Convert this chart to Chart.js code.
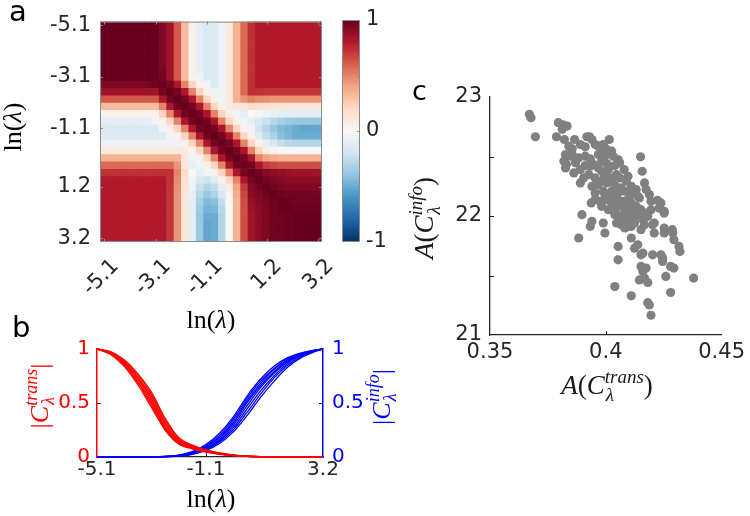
<!DOCTYPE html>
<html>
<head>
<meta charset="utf-8">
<script src="https://cdn.jsdelivr.net/npm/chart.js@4.4.1/dist/chart.umd.min.js"></script>
<style>
    html, body { margin: 0; padding: 0; background: #fff; }
    #page { position: relative; width: 750px; height: 516px; overflow: hidden; }
    #page canvas { position: absolute; left: 0; top: 0; }
</style>
</head>
<body>
<div id="page">
    <canvas id="heat" width="750" height="516"></canvas>
    <canvas id="cbar" width="750" height="516"></canvas>
    <canvas id="curves" width="750" height="516"></canvas>
    <canvas id="scatter" width="750" height="516"></canvas>
</div>
<script>
// ---- panel a: ln(lambda) grid and correlation matrix (upper triangle, row i holds j = i..29)
var lnL = [-5.10, -4.81, -4.53, -4.24, -3.96, -3.67, -3.38, -3.10, -2.81, -2.52,
           -2.24, -1.95, -1.67, -1.38, -1.09, -0.81, -0.52, -0.24, 0.05, 0.34,
           0.62, 0.91, 1.20, 1.48, 1.77, 2.06, 2.34, 2.63, 2.91, 3.20];
var heatTicks = [0, 7, 14, 22, 29];
var heatUpper = [
    [1, 1, 1, 1, 1, 1, 1, 1, 0.93, 0.85, 0.62, 0.32, 0.05, -0.1, -0.15, -0.14, -0.06, 0.1, 0.35, 0.57, 0.73, 0.8, 0.8, 0.8, 0.8, 0.8, 0.8, 0.8, 0.8, 0.8],
    [1, 1, 1, 1, 1, 1, 1, 0.93, 0.85, 0.62, 0.32, 0.05, -0.1, -0.15, -0.14, -0.06, 0.1, 0.35, 0.57, 0.73, 0.8, 0.8, 0.8, 0.8, 0.8, 0.8, 0.8, 0.8, 0.8],
    [1, 1, 1, 1, 1, 1, 0.93, 0.85, 0.62, 0.32, 0.05, -0.1, -0.15, -0.14, -0.06, 0.1, 0.35, 0.57, 0.73, 0.8, 0.8, 0.8, 0.8, 0.8, 0.8, 0.8, 0.8, 0.8],
    [1, 1, 1, 1, 1, 0.93, 0.85, 0.62, 0.32, 0.05, -0.1, -0.15, -0.14, -0.06, 0.1, 0.35, 0.57, 0.73, 0.8, 0.8, 0.8, 0.8, 0.8, 0.8, 0.8, 0.8, 0.8],
    [1, 1, 1, 1, 0.93, 0.85, 0.62, 0.32, 0.05, -0.1, -0.15, -0.14, -0.06, 0.1, 0.35, 0.57, 0.73, 0.8, 0.8, 0.8, 0.8, 0.8, 0.8, 0.8, 0.8, 0.8],
    [1, 1, 1, 0.93, 0.85, 0.62, 0.32, 0.05, -0.1, -0.15, -0.14, -0.06, 0.1, 0.35, 0.57, 0.73, 0.8, 0.8, 0.8, 0.8, 0.8, 0.8, 0.8, 0.8, 0.8],
    [1, 1, 0.95, 0.85, 0.62, 0.32, 0.05, -0.1, -0.15, -0.14, -0.06, 0.1, 0.35, 0.57, 0.73, 0.8, 0.8, 0.8, 0.8, 0.8, 0.8, 0.8, 0.8, 0.8],
    [1, 0.97, 0.85, 0.62, 0.32, 0.05, -0.05, -0.15, -0.14, -0.06, 0.1, 0.35, 0.57, 0.73, 0.8, 0.8, 0.8, 0.8, 0.8, 0.8, 0.8, 0.8, 0.8],
    [1, 0.96, 0.82, 0.5, 0.22, 0.05, -0.05, -0.14, -0.06, 0.1, 0.35, 0.57, 0.73, 0.8, 0.8, 0.8, 0.8, 0.8, 0.8, 0.8, 0.8, 0.8],
    [1, 0.96, 0.82, 0.5, 0.22, 0.05, -0.05, -0.06, 0.1, 0.35, 0.57, 0.74, 0.73, 0.72, 0.72, 0.72, 0.72, 0.72, 0.72, 0.72, 0.72],
    [1, 0.96, 0.82, 0.5, 0.22, 0.05, -0.05, 0.1, 0.35, 0.45, 0.5, 0.47, 0.46, 0.45, 0.45, 0.45, 0.45, 0.45, 0.45, 0.45],
    [1, 0.96, 0.82, 0.5, 0.22, 0.05, 0.1, 0.12, 0.12, 0.2, 0.16, 0.14, 0.13, 0.12, 0.12, 0.12, 0.12, 0.12, 0.12],
    [1, 0.96, 0.82, 0.5, 0.22, 0.05, -0.05, -0.1, 0, -0.03, -0.06, -0.08, -0.1, -0.1, -0.1, -0.1, -0.1, -0.1],
    [1, 0.96, 0.82, 0.5, 0.22, 0.05, -0.05, -0.1, -0.17, -0.23, -0.28, -0.33, -0.36, -0.38, -0.38, -0.38, -0.38],
    [1, 0.96, 0.82, 0.5, 0.22, 0.05, -0.05, -0.2, -0.3, -0.38, -0.44, -0.47, -0.5, -0.52, -0.52, -0.52],
    [1, 0.96, 0.82, 0.5, 0.22, 0.05, -0.12, -0.25, -0.32, -0.42, -0.46, -0.5, -0.5, -0.5, -0.5],
    [1, 0.96, 0.82, 0.5, 0.22, 0.05, -0.1, -0.18, -0.24, -0.28, -0.3, -0.3, -0.3, -0.3],
    [1, 0.96, 0.82, 0.5, 0.22, 0.08, 0.03, 0, 0, 0, 0, 0, 0],
    [1, 0.96, 0.82, 0.5, 0.4, 0.37, 0.35, 0.35, 0.35, 0.35, 0.35, 0.35],
    [1, 0.96, 0.82, 0.7, 0.67, 0.65, 0.65, 0.65, 0.65, 0.65, 0.65],
    [1, 0.96, 0.92, 0.9, 0.88, 0.86, 0.85, 0.85, 0.85, 0.85],
    [1, 0.96, 0.93, 0.92, 0.9, 0.9, 0.9, 0.9, 0.9],
    [1, 0.97, 0.95, 0.94, 0.94, 0.94, 0.94, 0.94],
    [1, 0.98, 0.97, 0.97, 0.97, 0.97, 0.97],
    [1, 0.99, 0.98, 0.98, 0.98, 0.98],
    [1, 0.99, 0.99, 0.99, 0.99],
    [1, 1, 1, 1],
    [1, 1, 1],
    [1, 1],
    [1]
];
var cbTicks = [-1, 0, 1];

// ---- panel b: |C^trans| and |C^info| against ln(lambda)
var bX = [-5.1, -4.6, -4.1, -3.6, -3.1, -2.6, -2.1, -1.6, -1.1, -0.6, -0.1, 0.4, 0.9, 1.4, 1.9, 2.4, 2.9, 3.2];
var bTicks = [-5.1, -1.1, 3.2];
var transCurves = [
    [1, 0.95, 0.84, 0.67, 0.46, 0.25, 0.12, 0.075, 0.045, 0.025, 0.012, 0.005, 0.002, 0.001, 0, 0, 0, 0],
    [1, 0.955, 0.85, 0.69, 0.48, 0.26, 0.13, 0.08, 0.05, 0.027, 0.013, 0.006, 0.002, 0.001, 0, 0, 0, 0],
    [1, 0.96, 0.86, 0.70, 0.50, 0.27, 0.135, 0.085, 0.052, 0.028, 0.014, 0.006, 0.003, 0.001, 0, 0, 0, 0],
    [1, 0.96, 0.87, 0.72, 0.52, 0.28, 0.14, 0.09, 0.055, 0.03, 0.015, 0.007, 0.003, 0.001, 0, 0, 0, 0],
    [1, 0.965, 0.875, 0.73, 0.54, 0.30, 0.15, 0.095, 0.058, 0.032, 0.016, 0.007, 0.003, 0.001, 0, 0, 0, 0],
    [1, 0.97, 0.88, 0.74, 0.56, 0.32, 0.16, 0.10, 0.06, 0.034, 0.017, 0.008, 0.003, 0.001, 0, 0, 0, 0],
    [1, 0.97, 0.89, 0.76, 0.58, 0.34, 0.17, 0.105, 0.063, 0.036, 0.018, 0.008, 0.004, 0.001, 0, 0, 0, 0],
    [1, 0.975, 0.90, 0.77, 0.60, 0.36, 0.18, 0.11, 0.066, 0.038, 0.02, 0.009, 0.004, 0.002, 0.001, 0, 0, 0]
];
var infoCurves = [
    [0, 0, 0, 0, 0.002, 0.006, 0.018, 0.05, 0.115, 0.22, 0.37, 0.56, 0.72, 0.84, 0.92, 0.965, 0.99, 1],
    [0, 0, 0, 0, 0.002, 0.005, 0.016, 0.045, 0.105, 0.20, 0.35, 0.54, 0.70, 0.82, 0.91, 0.96, 0.99, 1],
    [0, 0, 0, 0, 0.001, 0.005, 0.014, 0.04, 0.095, 0.185, 0.33, 0.52, 0.68, 0.81, 0.90, 0.955, 0.988, 1],
    [0, 0, 0, 0, 0.001, 0.004, 0.012, 0.036, 0.088, 0.175, 0.31, 0.50, 0.66, 0.79, 0.89, 0.95, 0.986, 1],
    [0, 0, 0, 0, 0.001, 0.004, 0.011, 0.033, 0.08, 0.16, 0.29, 0.47, 0.64, 0.775, 0.88, 0.945, 0.984, 1],
    [0, 0, 0, 0, 0, 0.003, 0.01, 0.03, 0.075, 0.15, 0.27, 0.44, 0.61, 0.75, 0.865, 0.94, 0.982, 1],
    [0, 0, 0, 0, 0, 0.003, 0.009, 0.027, 0.068, 0.14, 0.25, 0.41, 0.58, 0.73, 0.85, 0.93, 0.98, 1],
    [0, 0, 0, 0, 0, 0.002, 0.008, 0.024, 0.06, 0.125, 0.23, 0.38, 0.55, 0.70, 0.83, 0.92, 0.975, 1]
];

// ---- panel c: A(C^trans) vs A(C^info)
var aTrans = [
    0.3670, 0.3677, 0.3696, 0.3795, 0.3815, 0.3833, 0.3812, 0.3787, 0.3821, 0.3865,
    0.3918, 0.3930, 0.3940, 0.4015, 0.3840, 0.3855, 0.3890, 0.3911, 0.3954, 0.3985,
    0.4004, 0.4025, 0.3989, 0.3826, 0.3848, 0.3883, 0.3933, 0.3968, 0.3996, 0.4032,
    0.4053, 0.4150, 0.3819, 0.3830, 0.3869, 0.3911, 0.3982, 0.4004, 0.4039, 0.4060,
    0.3826, 0.3862, 0.3890, 0.3933, 0.3968, 0.4011, 0.4046, 0.4079, 0.4157, 0.3904,
    0.3926, 0.3954, 0.3996, 0.4025, 0.4060, 0.4096, 0.4167, 0.3890, 0.3940, 0.3968,
    0.4004, 0.4039, 0.4067, 0.4110, 0.4131, 0.4174, 0.3954, 0.3989, 0.4018, 0.4053,
    0.4082, 0.4110, 0.4138, 0.4188, 0.3937, 0.3975, 0.4004, 0.4039, 0.4074, 0.4110,
    0.4145, 0.4195, 0.4223, 0.4238, 0.3982, 0.4011, 0.4046, 0.4082, 0.4110, 0.4138,
    0.4174, 0.4230, 0.4252, 0.3897, 0.4039, 0.4060, 0.4096, 0.4124, 0.4181, 0.4252,
    0.3940, 0.3989, 0.4046, 0.4067, 0.4096, 0.4110, 0.4167, 0.4209, 0.4252, 0.3933,
    0.3996, 0.4082, 0.4152, 0.4202, 0.4287, 0.3883, 0.4110, 0.4209, 0.4252, 0.4289,
    0.4294, 0.4053, 0.4124, 0.4138, 0.4160, 0.4238, 0.4316, 0.4320, 0.4053, 0.4152,
    0.4202, 0.4245, 0.4245, 0.4152, 0.4160, 0.4174, 0.4294, 0.4280, 0.4145, 0.4167,
    0.4181, 0.4259, 0.4379, 0.4039, 0.4280, 0.4110, 0.4181, 0.4188, 0.4195, 0.4025,
    0.4046, 0.4096, 0.4060, 0.4089, 0.4103, 0.4074, 0.4124, 0.4025, 0.3996, 0.3975,
    0.4018, 0.3982, 0.3947, 0.3911, 0.3968, 0.3855, 0.4131, 0.4152, 0.4195, 0.4160,
    0.4096, 0.4039, 0.4117, 0.3954, 0.4089
];
var aInfo = [
    22.854, 22.826, 22.666, 22.784, 22.767, 22.756, 22.728, 22.666, 22.643, 22.643,
    22.666, 22.666, 22.643, 22.643, 22.587, 22.565, 22.601, 22.581, 22.601, 22.553,
    22.559, 22.545, 22.601, 22.517, 22.503, 22.489, 22.480, 22.517, 22.503, 22.503,
    22.475, 22.497, 22.461, 22.433, 22.447, 22.424, 22.461, 22.441, 22.424, 22.447,
    22.404, 22.362, 22.390, 22.419, 22.404, 22.390, 22.348, 22.390, 22.376, 22.320,
    22.348, 22.320, 22.334, 22.301, 22.320, 22.334, 22.278, 22.278, 22.250, 22.264,
    22.278, 22.256, 22.236, 22.250, 22.222, 22.222, 22.194, 22.208, 22.166, 22.194,
    22.208, 22.180, 22.166, 22.180, 22.110, 22.124, 22.138, 22.110, 22.124, 22.110,
    22.152, 22.124, 22.132, 22.110, 22.081, 22.053, 22.067, 22.039, 22.067, 22.025,
    22.025, 22.067, 22.039, 22.011, 22.011, 21.997, 21.997, 21.983, 21.997, 22.025,
    21.955, 21.941, 21.941, 21.927, 21.969, 21.913, 21.927, 21.941, 21.899, 21.913,
    21.857, 21.899, 21.885, 21.927, 21.885, 21.815, 21.815, 21.857, 21.857, 21.857,
    21.801, 21.744, 21.730, 21.758, 21.688, 21.674, 21.744, 21.702, 21.632, 21.674,
    21.674, 21.646, 21.618, 21.576, 21.534, 21.562, 21.562, 21.576, 21.463, 21.478,
    21.441, 21.492, 21.478, 21.407, 21.357, 21.329, 21.272, 21.253, 21.166, 22.208,
    22.166, 22.138, 22.096, 22.081, 22.025, 21.969, 21.941, 22.110, 22.180, 22.292,
    22.320, 22.376, 22.433, 22.503, 22.587, 22.517, 22.081, 22.053, 22.053, 21.969,
    21.913, 22.222, 22.208, 22.138, 22.292
];

var sans = '"DejaVu Sans", sans-serif';
var serif = '"Liberation Serif", "DejaVu Serif", serif';
var ink = "#262626";
Chart.defaults.font.family = sans;

// RdBu colour map, -1 (navy) .. 1 (dark red)
var rdbuStops = ["#053061", "#2166ac", "#4393c3", "#92c5de", "#d1e5f0", "#f7f7f7",
                 "#fddbc7", "#f4a582", "#d6604d", "#b2182b", "#67001f"];
function hexRgb(h) {
    return [parseInt(h.substr(1, 2), 16), parseInt(h.substr(3, 2), 16), parseInt(h.substr(5, 2), 16)];
}
function rdbu(v) {
    var t = (Math.max(-1, Math.min(1, v)) + 1) / 2 * 10;
    var i = Math.min(9, Math.floor(t)), f = t - i;
    var a = hexRgb(rdbuStops[i]), b = hexRgb(rdbuStops[i + 1]);
    return "rgb(" + a.map(function (c, k) { return Math.round(c + (b[k] - c) * f); }).join(",") + ")";
}

function fixW(w) { return function (s) { s.width = w; }; }
function fixH(h) { return function (s) { s.height = h; }; }
function setTicks(vals) {
    return function (s) { s.ticks = vals.map(function (v) { return { value: v }; }); };
}
function plainNum(v) { return String(v); }

// text with italic letters and stacked super/subscripts, drawn on the canvas
function drawMath(ctx, it) {
    ctx.save();
    if (it.plain) {
        ctx.font = it.size + "px " + sans;
        ctx.fillStyle = it.color || "#000";
        ctx.textBaseline = "alphabetic";
        ctx.fillText(it.text, it.x, it.y);
        ctx.restore();
        return;
    }
    var s = it.size, ss = Math.round(s * 0.7);
    function font(ital, sz) { return (ital ? "italic " : "") + sz + "px " + serif; }
    var total = 0;
    var segs = it.parts.map(function (p) {
        var w;
        if (p.sup !== undefined) {
            ctx.font = font(true, ss);
            w = Math.max(ctx.measureText(p.sup).width, ctx.measureText(p.sub).width + 1);
        } else {
            ctx.font = font(p.i, s);
            w = ctx.measureText(p.t).width;
        }
        total += w;
        return { p: p, w: w };
    });
    ctx.translate(it.x, it.y);
    if (it.rot) ctx.rotate(it.rot);
    ctx.fillStyle = it.color || "#000";
    ctx.textBaseline = "alphabetic";
    ctx.textAlign = "left";
    var x = -total / 2, base = s * 0.3;
    segs.forEach(function (seg) {
        var p = seg.p;
        if (p.sup !== undefined) {
            ctx.font = font(true, ss);
            ctx.fillText(p.sup, x, base - s * 0.42);
            ctx.fillText(p.sub, x + 1, base + s * 0.25);
        } else {
            ctx.font = font(p.i, s);
            ctx.fillText(p.t, x, base);
        }
        x += seg.w;
    });
    ctx.restore();
}

var mathPlugin = {
    id: "mathText",
    afterDraw: function (chart, args, opts) {
        (opts.items || []).forEach(function (it) { drawMath(chart.ctx, it); });
    }
};
var framePlugin = {
    id: "frame",
    afterDatasetsDraw: function (chart, args, opts) {
        var a = chart.chartArea, c = chart.ctx;
        c.save();
        c.strokeStyle = opts.color;
        c.lineWidth = 1;
        c.strokeRect(a.left + 0.5, a.top + 0.5, a.right - a.left - 1, a.bottom - a.top - 1);
        c.restore();
    }
};
var innerTicks = {
    id: "innerTicks",
    afterDatasetsDraw: function (chart, args, opts) {
        var a = chart.chartArea, c = chart.ctx;
        (opts.marks || []).forEach(function (m) {
            var s = chart.scales[m.axis];
            c.save();
            c.strokeStyle = m.color;
            c.lineWidth = 1;
            m.values.forEach(function (v) {
                var p = Math.round(s.getPixelForValue(v)) + 0.5;
                c.beginPath();
                if (m.side === "bottom") { c.moveTo(p, a.bottom); c.lineTo(p, a.bottom - m.len); }
                else if (m.side === "top") { c.moveTo(p, a.top); c.lineTo(p, a.top + m.len); }
                else if (m.side === "left") { c.moveTo(a.left, p); c.lineTo(a.left + m.len, p); }
                else { c.moveTo(a.right, p); c.lineTo(a.right - m.len, p); }
                c.stroke();
            });
            c.restore();
        });
    }
};

var lnParts = [{ t: "ln(" }, { t: "λ", i: true }, { t: ")" }];
var up = -Math.PI / 2;
var noLegend = { display: false };
var noTip = { enabled: false };

// ---- panel a heatmap: one row of floating bars per lambda
var heatFull = lnL.map(function (_, i) {
    return lnL.map(function (_, j) {
        return j >= i ? heatUpper[i][j - i] : heatUpper[j][i - j];
    });
});
var heatSets = heatFull.map(function (row, i) {
    return {
        data: row.map(function (v, j) { return { x: j, y: [i - 0.5, i + 0.5] }; }),
        backgroundColor: row.map(rdbu),
        borderWidth: 0,
        grouped: false,
        barPercentage: 1,
        categoryPercentage: 1
    };
});

new Chart(document.getElementById("heat"), {
    type: "bar",
    data: { datasets: heatSets },
    options: {
        responsive: false,
        animation: false,
        events: [],
        layout: { padding: { left: 0, top: 20, right: 428, bottom: 214 } },
        plugins: {
            legend: noLegend,
            tooltip: noTip,
            frame: { color: "#8c8c8c" },
            innerTicks: {
                marks: [
                    { axis: "x", side: "bottom", values: heatTicks, len: 3, color: "#8c8c8c" },
                    { axis: "x", side: "top", values: heatTicks, len: 3, color: "#8c8c8c" },
                    { axis: "y", side: "left", values: heatTicks, len: 3, color: "#8c8c8c" },
                    { axis: "y", side: "right", values: heatTicks, len: 3, color: "#8c8c8c" }
                ]
            },
            mathText: {
                items: [
                    { x: 13, y: 127, rot: up, size: 26, parts: lnParts },
                    { x: 211, y: 320, size: 26, parts: lnParts },
                    { plain: true, text: "a", x: 9, y: 21, size: 29 }
                ]
            }
        },
        scales: {
            x: {
                type: "linear", min: -0.5, max: 29.5, offset: false,
                afterBuildTicks: setTicks(heatTicks),
                afterFit: fixH(60),
                grid: { display: false, drawTicks: false },
                border: { display: false },
                ticks: {
                    autoSkip: false, minRotation: 45, maxRotation: 45, labelOffset: 12, padding: 12,
                    color: ink, font: { size: 21 },
                    callback: function (v) { return lnL[v].toFixed(1); }
                }
            },
            y: {
                type: "linear", reverse: true, min: -0.5, max: 29.5, offset: false,
                afterBuildTicks: setTicks(heatTicks),
                afterFit: fixW(100),
                grid: { display: false, drawTicks: false },
                border: { display: false },
                ticks: {
                    padding: 9, color: ink, font: { size: 21 },
                    callback: function (v) { return lnL[v].toFixed(1); }
                }
            }
        }
    },
    plugins: [framePlugin, innerTicks, mathPlugin]
});

// ---- colour bar
new Chart(document.getElementById("cbar"), {
    type: "bar",
    data: {
        labels: [""],
        datasets: [{
            data: [[-1, 1]],
            barPercentage: 1,
            categoryPercentage: 1,
            borderWidth: 0,
            backgroundColor: function (ctx) {
                var ca = ctx.chart.chartArea;
                if (!ca) return "#fff";
                var g = ctx.chart.ctx.createLinearGradient(0, ca.bottom, 0, ca.top);
                rdbuStops.forEach(function (c, k) { g.addColorStop(k / 10, c); });
                return g;
            }
        }]
    },
    options: {
        responsive: false,
        animation: false,
        events: [],
        layout: { padding: { left: 342, top: 20, right: 350, bottom: 274 } },
        plugins: {
            legend: noLegend,
            tooltip: noTip,
            frame: { color: "#8c8c8c" },
            innerTicks: {
                marks: [{ axis: "y", side: "right", values: [-0.5, 0, 0.5], len: 3, color: "#8c8c8c" }]
            }
        },
        scales: {
            x: { display: false },
            y: {
                position: "right", min: -1, max: 1,
                afterBuildTicks: setTicks(cbTicks),
                afterFit: fixW(40),
                grid: { display: false, drawTicks: false },
                border: { display: false },
                ticks: { padding: 6, color: ink, font: { size: 21 } }
            }
        }
    },
    plugins: [framePlugin, innerTicks]
});

// ---- panel b curves
var curveSets = [];
transCurves.forEach(function (c) {
    curveSets.push({
        data: c.map(function (v, k) { return { x: bX[k], y: v }; }),
        borderColor: "#ff0000", yAxisID: "y"
    });
});
infoCurves.forEach(function (c) {
    curveSets.push({
        data: c.map(function (v, k) { return { x: bX[k], y: v }; }),
        borderColor: "#0000ff", yAxisID: "y1"
    });
});

new Chart(document.getElementById("curves"), {
    type: "line",
    data: { datasets: curveSets },
    options: {
        responsive: false,
        animation: false,
        events: [],
        layout: { padding: { left: 37, top: 349, right: 367, bottom: 29 } },
        elements: {
            line: { borderWidth: 1.3, cubicInterpolationMode: "monotone", fill: false },
            point: { radius: 0 }
        },
        datasets: { line: { clip: false } },
        plugins: {
            legend: noLegend,
            tooltip: noTip,
            innerTicks: {
                marks: [
                    { axis: "x", side: "bottom", values: [-1.1], len: 4, color: ink },
                    { axis: "y", side: "left", values: [0.5], len: 4, color: "#ff0000" },
                    { axis: "y1", side: "right", values: [0.5], len: 4, color: "#0000ff" }
                ]
            },
            mathText: {
                items: [
                    { x: 40, y: 396, rot: up, size: 26, color: "#ff0000",
                      parts: [{ t: "|" }, { t: "C", i: true }, { sup: "trans", sub: "λ" }, { t: "|" }] },
                    { x: 382, y: 397, rot: up, size: 26, color: "#0000ff",
                      parts: [{ t: "|" }, { t: "C", i: true }, { sup: "info", sub: "λ" }, { t: "|" }] },
                    { x: 211, y: 499, size: 26, parts: lnParts },
                    { plain: true, text: "b", x: 12, y: 337, size: 29 }
                ]
            }
        },
        scales: {
            x: {
                type: "linear", min: -5.1, max: 3.2,
                afterBuildTicks: setTicks(bTicks),
                afterFit: fixH(30),
                grid: { display: false, drawTicks: false },
                border: { color: ink, width: 1.3 },
                ticks: {
                    padding: 1, color: ink, font: { size: 20 },
                    callback: function (v) { return v.toFixed(1); }
                }
            },
            y: {
                position: "left", min: 0, max: 1,
                afterBuildTicks: setTicks([0, 0.5, 1]),
                afterFit: fixW(60),
                grid: { display: false, drawTicks: false },
                border: { color: "#ff0000", width: 1.5 },
                ticks: { padding: 7, color: "#ff0000", font: { size: 20 }, callback: plainNum }
            },
            y1: {
                position: "right", min: 0, max: 1,
                afterBuildTicks: setTicks([0, 0.5, 1]),
                afterFit: fixW(60),
                grid: { display: false, drawTicks: false },
                border: { color: "#0000ff", width: 1.5 },
                ticks: { padding: 9, color: "#0000ff", font: { size: 20 }, callback: plainNum }
            }
        }
    },
    plugins: [innerTicks, mathPlugin]
});

// ---- panel c scatter
new Chart(document.getElementById("scatter"), {
    type: "scatter",
    data: {
        datasets: [{
            data: aTrans.map(function (x, k) { return { x: x, y: aInfo[k] }; }),
            backgroundColor: "#808080",
            borderWidth: 0,
            pointRadius: 4.6
        }]
    },
    options: {
        responsive: false,
        animation: false,
        events: [],
        layout: { padding: { left: 440, top: 97, right: 25, bottom: 151 } },
        plugins: {
            legend: noLegend,
            tooltip: noTip,
            innerTicks: {
                marks: [
                    { axis: "x", side: "bottom", values: [0.4], len: 4, color: ink },
                    { axis: "y", side: "left", values: [21.5, 22, 22.5], len: 4, color: ink }
                ]
            },
            mathText: {
                items: [
                    { x: 425, y: 218, rot: up, size: 27, color: "#1a1a1a",
                      parts: [{ t: "A", i: true }, { t: "(" }, { t: "C", i: true }, { sup: "info", sub: "λ" }, { t: ")" }] },
                    { x: 607, y: 386, size: 27, color: "#1a1a1a",
                      parts: [{ t: "A", i: true }, { t: "(" }, { t: "C", i: true }, { sup: "trans", sub: "λ" }, { t: ")" }] },
                    { plain: true, text: "c", x: 412, y: 100, size: 27 }
                ]
            }
        },
        scales: {
            x: {
                type: "linear", min: 0.35, max: 0.45,
                afterBuildTicks: setTicks([0.35, 0.4, 0.45]),
                afterFit: fixH(30),
                grid: { display: false, drawTicks: false },
                border: { color: ink, width: 1.3 },
                ticks: { padding: 5, color: ink, font: { size: 21 }, callback: plainNum }
            },
            y: {
                type: "linear", min: 21, max: 23,
                afterBuildTicks: setTicks([21, 22, 23]),
                afterFit: fixW(50),
                grid: { display: false, drawTicks: false },
                border: { color: ink, width: 1.3 },
                ticks: { padding: 8, color: ink, font: { size: 21 }, callback: plainNum }
            }
        }
    },
    plugins: [innerTicks, mathPlugin]
});
</script>
</body>
</html>
